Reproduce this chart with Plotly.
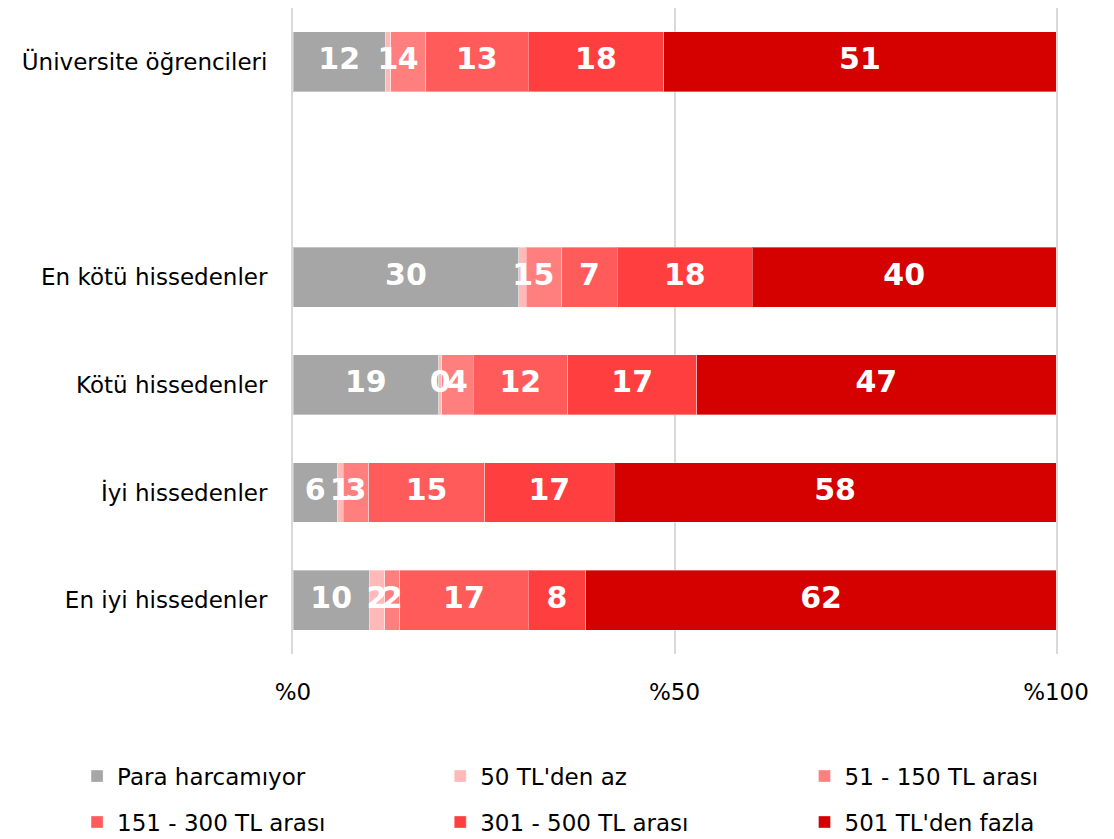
import plotly.graph_objects as go

groups = ["Üniversite öğrencileri", " ", "En kötü hissedenler", "Kötü hissedenler",
          "İyi hissedenler", "En iyi hissedenler"]
series = ["Para harcamıyor", "50 TL'den az", "51 - 150 TL arası",
          "151 - 300 TL arası", "301 - 500 TL arası", "501 TL'den fazla"]
colors = ["#A6A6A6", "#FFB9B9", "#FF7F7F", "#FF5B5B", "#FF3F3F", "#D50000"]

# shares per group (bar widths), one list per series, in group order (blank row = None)
shares = {
    "Para harcamıyor":    [12.1, None, 29.6, 19.1, 5.8, 10.0],
    "50 TL'den az":       [0.7, None, 1.0, 0.4, 0.8, 2.0],
    "51 - 150 TL arası":  [4.6, None, 4.6, 4.1, 3.3, 2.0],
    "151 - 300 TL arası": [13.4, None, 7.3, 12.4, 15.2, 16.8],
    "301 - 500 TL arası": [17.8, None, 17.7, 16.9, 17.0, 7.6],
    "501 TL'den fazla":   [51.4, None, 39.8, 47.1, 57.9, 61.6],
}
# labels printed on the bars
labels = {
    "Para harcamıyor":    [12, None, 30, 19, 6, 10],
    "50 TL'den az":       [1, None, 1, 0, 1, 2],
    "51 - 150 TL arası":  [4, None, 5, 4, 3, 2],
    "151 - 300 TL arası": [13, None, 7, 12, 15, 17],
    "301 - 500 TL arası": [18, None, 18, 17, 17, 8],
    "501 TL'den fazla":   [51, None, 40, 47, 58, 62],
}

# legend column for each series (3 columns, 2 rows like the original)
legend_col = ["legend", "legend2", "legend3", "legend", "legend2", "legend3"]

font_main = "DejaVu Sans, Verdana, sans-serif"

fig = go.Figure()
for i, (name, col) in enumerate(zip(series, colors)):
    fig.add_trace(go.Bar(
        y=groups, x=shares[name], name=name, orientation="h",
        marker=dict(color=col, line=dict(color="rgba(255,255,255,0.35)", width=1)),
        width=0.555, legend=legend_col[i], legendgroup=name,
        hoverinfo="name+y",
    ))

# value labels on top of all bars (centre of each segment, normalised to 100)
totals = [sum(shares[s][g] for s in series) if shares[series[0]][g] is not None else None
          for g in range(len(groups))]
lx, ly, lt = [], [], []
for g, grp in enumerate(groups):
    if totals[g] is None:
        continue
    cum = 0.0
    for s in series:
        v = shares[s][g]
        lx.append((cum + v / 2) / totals[g] * 100)
        ly.append(grp)
        lt.append(str(labels[s][g]))
        cum += v
fig.add_trace(go.Scatter(
    x=lx, y=ly, text=lt, mode="text", showlegend=False, hoverinfo="skip",
    textfont=dict(family="DejaVu Sans, sans-serif", size=30, color="white", weight="bold"),
))

leg = dict(
    orientation="v", xref="container", yref="container",
    y=0.004, xanchor="left", yanchor="bottom",
    font=dict(family=font_main, size=23, color="#000000"),
    tracegroupgap=13, itemclick=False, bgcolor="rgba(0,0,0,0)",
)

fig.update_layout(
    barmode="stack", barnorm="percent",
    width=1114, height=839,
    paper_bgcolor="white", plot_bgcolor="white",
    margin=dict(l=285, r=66, t=0, b=193, autoexpand=False),
    font=dict(family=font_main, size=23, color="#000000"),
    legend=dict(leg, x=0.062),
    legend2=dict(leg, x=0.388),
    legend3=dict(leg, x=0.715),
    xaxis=dict(
        range=[0, 100], tickvals=[0, 50, 100], ticktext=["%0", "%50", "%100"],
        showgrid=True, gridcolor="#D9D9D9", gridwidth=2, zeroline=False,
        showline=False, ticklabelstandoff=22, automargin=False, tickangle=0,
    ),
    yaxis=dict(
        categoryorder="array", categoryarray=groups, autorange="reversed",
        showgrid=False, ticks="", ticklabelstandoff=19, automargin=False,
        showline=True, mirror=True, linecolor="#D9D9D9", linewidth=2,
    ),
)

fig.write_html("out.html")
